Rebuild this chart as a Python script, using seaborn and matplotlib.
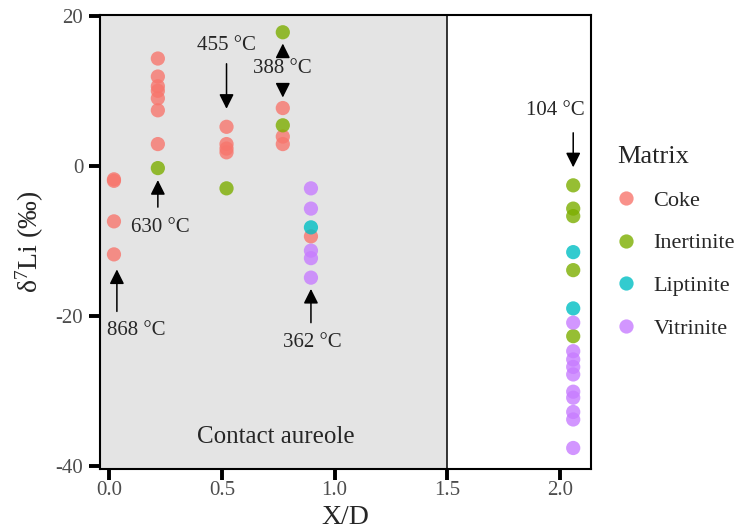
import matplotlib
matplotlib.use("Agg")
import matplotlib.pyplot as plt
import seaborn as sns
import pandas as pd

# ---------------- data ----------------
coke_x = [0.02, 0.02, 0.02, 0.02,
          0.215, 0.215, 0.215, 0.215, 0.215, 0.215, 0.215,
          0.52, 0.52, 0.52, 0.52,
          0.77, 0.77, 0.77,
          0.895]
coke_y = [-1.8, -2.0, -7.4, -11.8,
          14.3, 11.9, 10.6, 10.0, 9.0, 7.4, 2.9,
          5.2, 2.9, 2.3, 1.8,
          7.7, 3.9, 2.9,
          -9.4]
inert_x = [0.215, 0.52, 0.77, 0.77, 2.06, 2.06, 2.06, 2.06, 2.06]
inert_y = [-0.3, -3.0, 17.8, 5.4, -2.6, -5.7, -6.7, -13.9, -22.7]
lipt_x = [0.895, 2.06, 2.06]
lipt_y = [-8.2, -11.5, -19.0]
vitr_x = [0.895, 0.895, 0.895, 0.895, 0.895,
          2.06, 2.06, 2.06, 2.06, 2.06, 2.06, 2.06, 2.06, 2.06, 2.06]
vitr_y = [-3.0, -5.7, -11.3, -12.3, -14.9,
          -20.9, -24.7, -25.8, -26.8, -27.8, -30.1, -30.9, -32.8, -33.8, -37.6]

matrix_order = ["Coke", "Inertinite", "Liptinite", "Vitrinite"]
palette = ["#F8766D", "#7CAE00", "#00BFC4", "#C77CFF"]

x_ticks = [0.0, 0.5, 1.0, 1.5, 2.0]
x_tick_labels = ["0.0", "0.5", "1.0", "1.5", "2.0"]
y_ticks = [-40, -20, 0, 20]
y_tick_labels = ["-40", "-20", "0", "20"]

# temperature annotations: label, text pos, arrow tail, arrow tip
temp_labels = ["868 °C", "630 °C", "455 °C", "362 °C", "104 °C"]
temp_text_xy = [(0.12, -21.9), (0.225, -8.2), (0.52, 16.0), (0.90, -23.6), (1.98, 7.4)]
temp_tail = [(0.033, -19.4), (0.215, -5.5), (0.52, 13.6), (0.895, -20.9), (2.06, 4.4)]
temp_tip = [(0.033, -13.8), (0.215, -1.9), (0.52, 7.6), (0.895, -16.4), (2.06, -0.2)]

df = pd.DataFrame({
    "X/D": coke_x + inert_x + lipt_x + vitr_x,
    "d7Li": coke_y + inert_y + lipt_y + vitr_y,
    "Matrix": (["Coke"] * len(coke_x) + ["Inertinite"] * len(inert_x)
               + ["Liptinite"] * len(lipt_x) + ["Vitrinite"] * len(vitr_x)),
})

# ---------------- style ----------------
sns.set_style("white")
plt.rcParams["font.family"] = ["Liberation Serif", "DejaVu Serif"]
plt.rcParams["mathtext.fontset"] = "custom"
plt.rcParams["mathtext.rm"] = "Liberation Serif"
plt.rcParams["mathtext.it"] = "Liberation Serif:italic"

fig = plt.figure(figsize=(7.38, 5.31), dpi=100)
ax = fig.add_axes([100 / 738, 1 - 469 / 531, 491 / 738, 454 / 531])

ax.axvspan(-1, 1.5, color="#E4E4E4", zorder=0, lw=0)
ax.axvline(1.5, color="black", lw=1.1, zorder=1)

sns.scatterplot(data=df, x="X/D", y="d7Li", hue="Matrix", hue_order=matrix_order,
                palette=palette, s=105, alpha=0.8, linewidth=0, ax=ax, zorder=3)

ax.set_xlim(-0.042, 2.139)
ax.set_ylim(-40.4, 20.1)
ax.set_xticks(x_ticks)
ax.set_xticklabels(x_tick_labels)
ax.set_yticks(y_ticks)
ax.set_yticklabels(y_tick_labels)
ax.tick_params(axis="both", which="major", direction="out", length=8, width=2.8,
               color="black", labelsize=15, labelcolor="#4D4D4D",
               left=True, bottom=True)
ax.tick_params(axis="x", pad=0.5)
ax.tick_params(axis="y", pad=4)
for sp in ax.spines.values():
    sp.set_visible(True)
    sp.set_color("black")
    sp.set_linewidth(1.5)

ax.set_xlabel("X/D", fontsize=20, labelpad=4)
ax.set_ylabel(r"δ$^{7}$Li (‰)", fontsize=20, labelpad=7)

# annotations
arrow_kw = dict(arrowstyle="-|>", color="black", lw=1.1, mutation_scale=22,
                shrinkA=0, shrinkB=0)
for lab, txy, tail, tip in zip(temp_labels, temp_text_xy, temp_tail, temp_tip):
    ax.annotate("", xy=tip, xytext=tail, arrowprops=arrow_kw, zorder=4)
    ax.text(txy[0], txy[1], lab, fontsize=15, ha="center", va="center", zorder=4)

# 388 °C: double arrow heads
ax.text(0.77, 13.0, "388 °C", fontsize=15, ha="center", va="center", zorder=4)
ax.annotate("", xy=(0.77, 16.3), xytext=(0.77, 14.5), arrowprops=arrow_kw, zorder=4)
ax.annotate("", xy=(0.77, 9.1), xytext=(0.77, 10.9), arrowprops=arrow_kw, zorder=4)

ax.text(0.74, -36.1, "Contact aureole", fontsize=18, ha="center", va="center", zorder=4)

handles, labels = ax.get_legend_handles_labels()
ax.legend(handles, labels, title="Matrix", loc="upper left",
          bbox_to_anchor=(608 / 738, 1 - 137 / 531), bbox_transform=fig.transFigure,
          frameon=False, fontsize=16, title_fontsize=19, alignment="left",
          handlelength=0.8, handletextpad=0.85, labelspacing=1.0, borderaxespad=0,
          markerscale=1.0)

fig.savefig("out.png", dpi=100)
